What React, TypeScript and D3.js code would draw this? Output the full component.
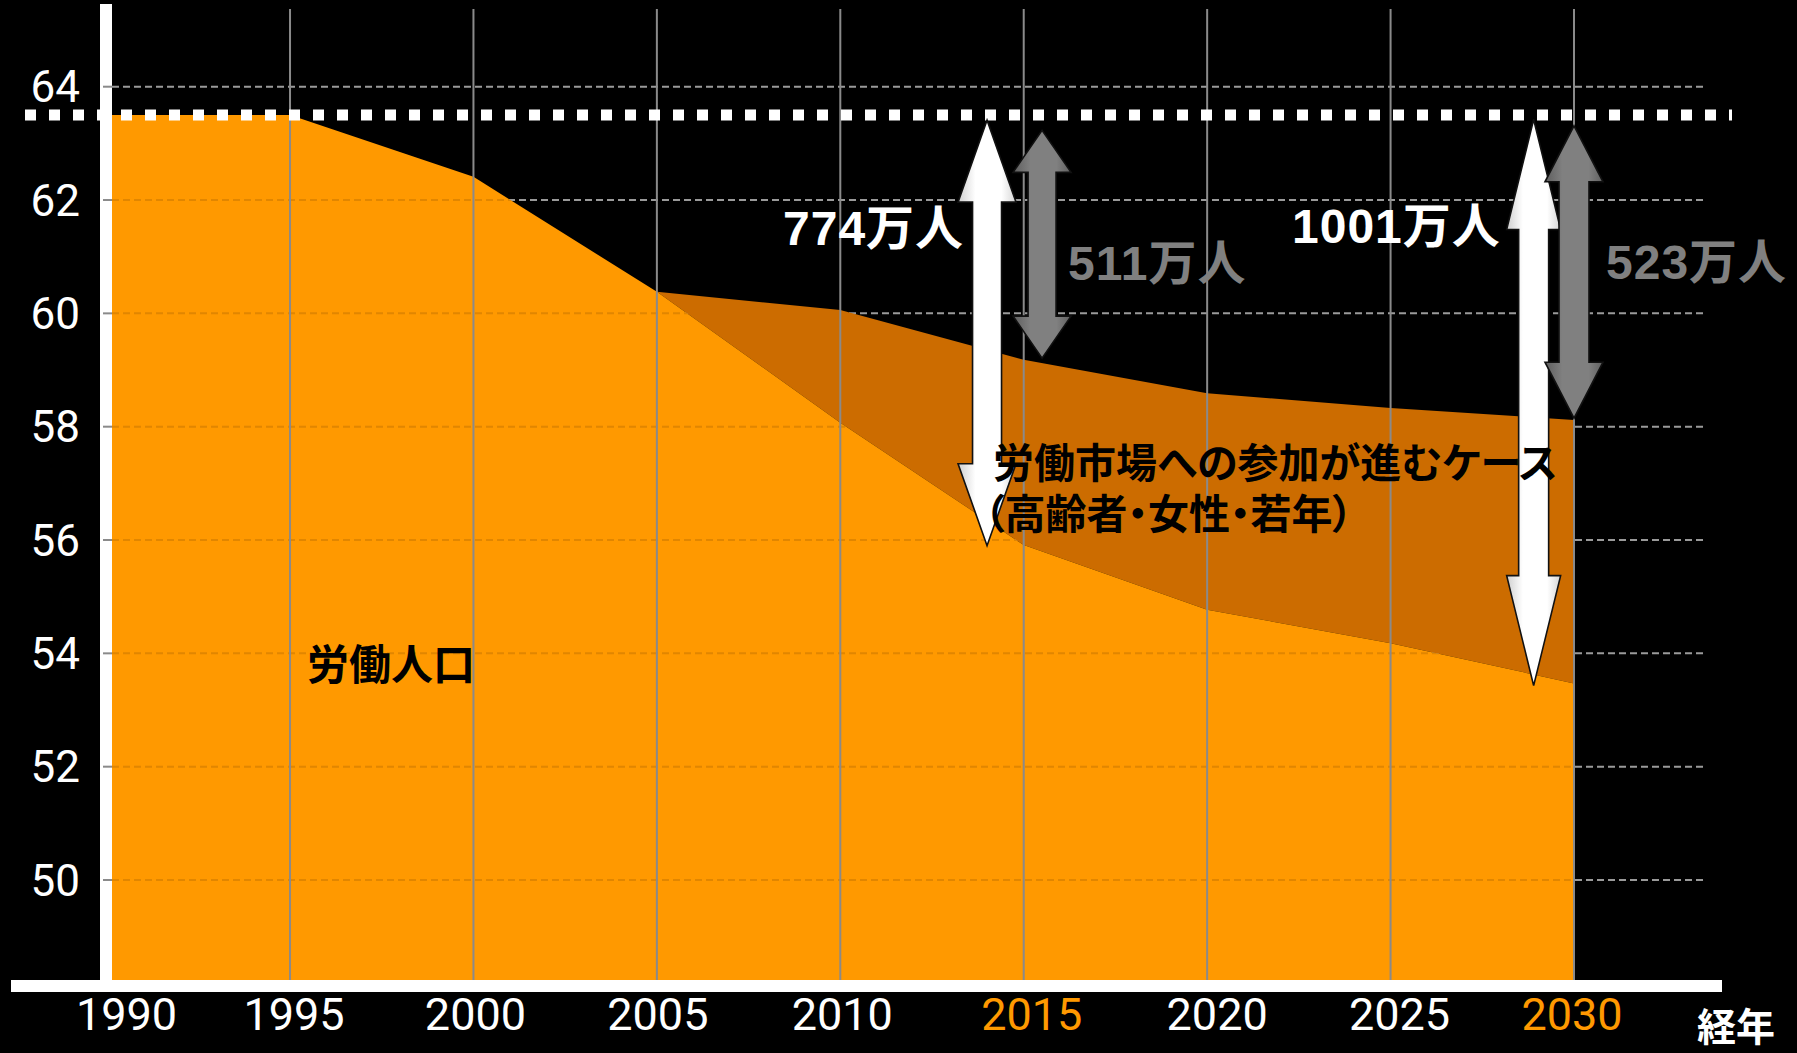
import React from "react";
import * as d3 from "d3";

// ---------- data ----------
const years = [1990, 1995, 2000, 2005, 2010, 2015, 2020, 2025, 2030];
const laborForce = [63.5, 63.5, 62.41, 60.38, 58.07, 55.91, 54.77, 54.18, 53.47];
const caseYears = [2005, 2010, 2015, 2020, 2025, 2030];
const caseLabor = [60.38, 60.06, 59.18, 58.59, 58.33, 58.12];
const referenceLevel = 63.5;
const yTicks = [50, 52, 54, 56, 58, 60, 62, 64];
const xTicks = [1990, 1995, 2000, 2005, 2010, 2015, 2020, 2025, 2030];
const highlightYears = [2015, 2030];

const arrowYears = [2014.0, 2015.5, 2028.9, 2030.0];
const arrowTops = [63.41, 63.23, 63.42, 63.31];
const arrowBottoms = [55.9, 59.21, 53.43, 58.15];
const arrowTones = ["white", "gray", "white", "gray"];
const arrowLabels = ["774万人", "511万人", "1001万人", "523万人"];

const seriesLabel = "労働人口";
const caseLabelLines = ["労働市場への参加が進むケース", "（高齢者・女性・若年）"];
const xAxisTitle = "経年";

// ---------- layout ----------
const W = 1797;
const H = 1053;
const plotBottom = 980;
const gridRight = 1707;
const arrowHead = [82, 42, 110, 56];
const arrowHeadHalf = [29, 29, 27, 29];
const arrowShaftHalf = [14.5, 14, 15, 15];
const arrowLabelPos = [
  { x: 783, y: 245 },
  { x: 1068, y: 280 },
  { x: 1292, y: 243 },
  { x: 1606, y: 279 },
];
const caseLabelX = [993, 984];
const xLabelDx = [20, 4, 2, 1, 2, 8, 10, 9, -2];

const LIGHT = "#FF9900";
const DARK = "#CC6C00";

export default function App() {
  const x = d3.scaleLinear().domain([1990, 2030]).range([106.6, 1574]);
  const y = d3.scaleLinear().domain([50, 64]).range([880, 86.7]);

  const lightData = years.map((yr, i) => ({ yr, v: laborForce[i] }));
  const bandData = caseYears.map((yr, i) => ({
    yr,
    lo: laborForce[years.indexOf(yr)],
    hi: caseLabor[i],
  }));

  const lightArea = d3
    .area<{ yr: number; v: number }>()
    .x((d) => x(d.yr))
    .y0(plotBottom)
    .y1((d) => y(d.v))(lightData) as string;

  const bandArea = d3
    .area<{ yr: number; lo: number; hi: number }>()
    .x((d) => x(d.yr))
    .y0((d) => y(d.lo))
    .y1((d) => y(d.hi))(bandData) as string;

  const arrowPath = (i: number) => {
    const cx = x(arrowYears[i]);
    const t = y(arrowTops[i]);
    const b = y(arrowBottoms[i]);
    const hl = arrowHead[i];
    const hh = arrowHeadHalf[i];
    const sh = arrowShaftHalf[i];
    return [
      `M${cx},${t}`,
      `L${cx + hh},${t + hl}`,
      `L${cx + sh},${t + hl}`,
      `L${cx + sh},${b - hl}`,
      `L${cx + hh},${b - hl}`,
      `L${cx},${b}`,
      `L${cx - hh},${b - hl}`,
      `L${cx - sh},${b - hl}`,
      `L${cx - sh},${t + hl}`,
      `L${cx - hh},${t + hl}`,
      "Z",
    ].join(" ");
  };

  const numFont = "'Liberation Sans', Arial, 'Noto Sans CJK JP', sans-serif";
  const cjkFont = "'Noto Sans CJK JP', 'Noto Sans CJK SC', sans-serif";
  const tickFont = "Roboto, 'Open Sans', 'DejaVu Sans', sans-serif";

  return (
    <svg
      width={W}
      height={H}
      style={{ position: "absolute", left: 0, top: 0, display: "block" }}
    >
      <defs>
        <linearGradient id="gWhite" x1="0" x2="1" y1="0" y2="0">
          <stop offset="0%" stopColor="#cfcfcf" />
          <stop offset="30%" stopColor="#ffffff" />
          <stop offset="75%" stopColor="#ffffff" />
          <stop offset="100%" stopColor="#d5d5d5" />
        </linearGradient>
        <linearGradient id="gGray" x1="0" x2="1" y1="0" y2="0">
          <stop offset="0%" stopColor="#5e5e5e" />
          <stop offset="30%" stopColor="#808080" />
          <stop offset="75%" stopColor="#808080" />
          <stop offset="100%" stopColor="#606060" />
        </linearGradient>
        <clipPath id="lightClip">
          <path d={lightArea} />
        </clipPath>
      </defs>

      <rect x={0} y={0} width={W} height={H} fill="#000" />

      {/* horizontal grid */}
      {yTicks.map((v) => (
        <line
          key={"hg" + v}
          x1={112}
          x2={gridRight}
          y1={y(v)}
          y2={y(v)}
          stroke="#9a9a9a"
          strokeWidth={2}
          strokeDasharray="7 4"
        />
      ))}

      {/* areas */}
      <path d={bandArea} fill={DARK} />
      <path d={lightArea} fill={LIGHT} />
      <g clipPath="url(#lightClip)">
        {yTicks.map((v) => (
          <line
            key={"fg" + v}
            x1={112}
            x2={gridRight}
            y1={y(v)}
            y2={y(v)}
            stroke="rgba(120,70,0,0.22)"
            strokeWidth={2}
            strokeDasharray="7 4"
          />
        ))}
      </g>

      {/* vertical grid */}
      {xTicks
        .filter((t) => t > 1990)
        .map((t) => (
          <line
            key={"vg" + t}
            x1={x(t)}
            x2={x(t)}
            y1={9}
            y2={984}
            stroke="#8a8a8a"
            strokeWidth={2}
          />
        ))}

      {/* axes bars */}
      <rect x={100} y={4} width={12} height={988} fill="#fff" />
      <rect x={11} y={plotBottom} width={1711} height={12} fill="#fff" />
      {yTicks.map((v) => (
        <line
          key={"yt" + v}
          x1={103}
          x2={112}
          y1={y(v)}
          y2={y(v)}
          stroke="#8a8a8a"
          strokeWidth={2}
        />
      ))}

      {/* reference dotted line */}
      <line
        x1={25}
        x2={1732}
        y1={y(referenceLevel)}
        y2={y(referenceLevel)}
        stroke="#ffffff"
        strokeWidth={11}
        strokeDasharray="11 13"
      />

      {/* arrows */}
      {arrowYears.map((_, i) => (
        <path
          key={"ar" + i}
          d={arrowPath(i)}
          fill={arrowTones[i] === "white" ? "url(#gWhite)" : "url(#gGray)"}
          stroke="#111"
          strokeWidth={1.6}
          strokeLinejoin="miter"
        />
      ))}

      {/* y tick labels */}
      {yTicks.map((v) => (
        <text
          key={"yl" + v}
          x={80}
          y={y(v) + 15.6}
          textAnchor="end"
          fill="#fff"
          fontFamily={tickFont}
          fontSize={44}
        >
          {v}
        </text>
      ))}

      {/* x tick labels */}
      {xTicks.map((t, i) => (
        <text
          key={"xl" + t}
          x={x(t) + xLabelDx[i]}
          y={1030}
          textAnchor="middle"
          fill={highlightYears.includes(t) ? LIGHT : "#fff"}
          fontFamily={tickFont}
          fontSize={45}
        >
          {t}
        </text>
      ))}

      {/* arrow labels */}
      {arrowLabels.map((s, i) => (
        <text
          key={"al" + i}
          x={arrowLabelPos[i].x}
          y={arrowLabelPos[i].y}
          fill={arrowTones[i] === "white" ? "#fff" : "#808080"}
          fontFamily={numFont}
          fontWeight="bold"
          fontSize={48}
          letterSpacing={1}
        >
          {s}
        </text>
      ))}

      {/* series labels */}
      <text
        x={307}
        y={680}
        fill="#000"
        fontFamily={cjkFont}
        fontWeight="bold"
        fontSize={42}
      >
        {seriesLabel}
      </text>
      <text
        y={477.5}
        fill="#000"
        fontFamily={cjkFont}
        fontWeight="bold"
        fontSize={41}
        style={{ fontFeatureSettings: '"palt"' }}
      >
        {caseLabelLines.map((line, i) => (
          <tspan key={"cl" + i} x={caseLabelX[i]} dy={i === 0 ? 0 : 51}>
            {line}
          </tspan>
        ))}
      </text>

      {/* x axis title */}
      <text
        x={1697}
        y={1041}
        fill="#fff"
        fontFamily={cjkFont}
        fontWeight="bold"
        fontSize={39}
      >
        {xAxisTitle}
      </text>
    </svg>
  );
}
